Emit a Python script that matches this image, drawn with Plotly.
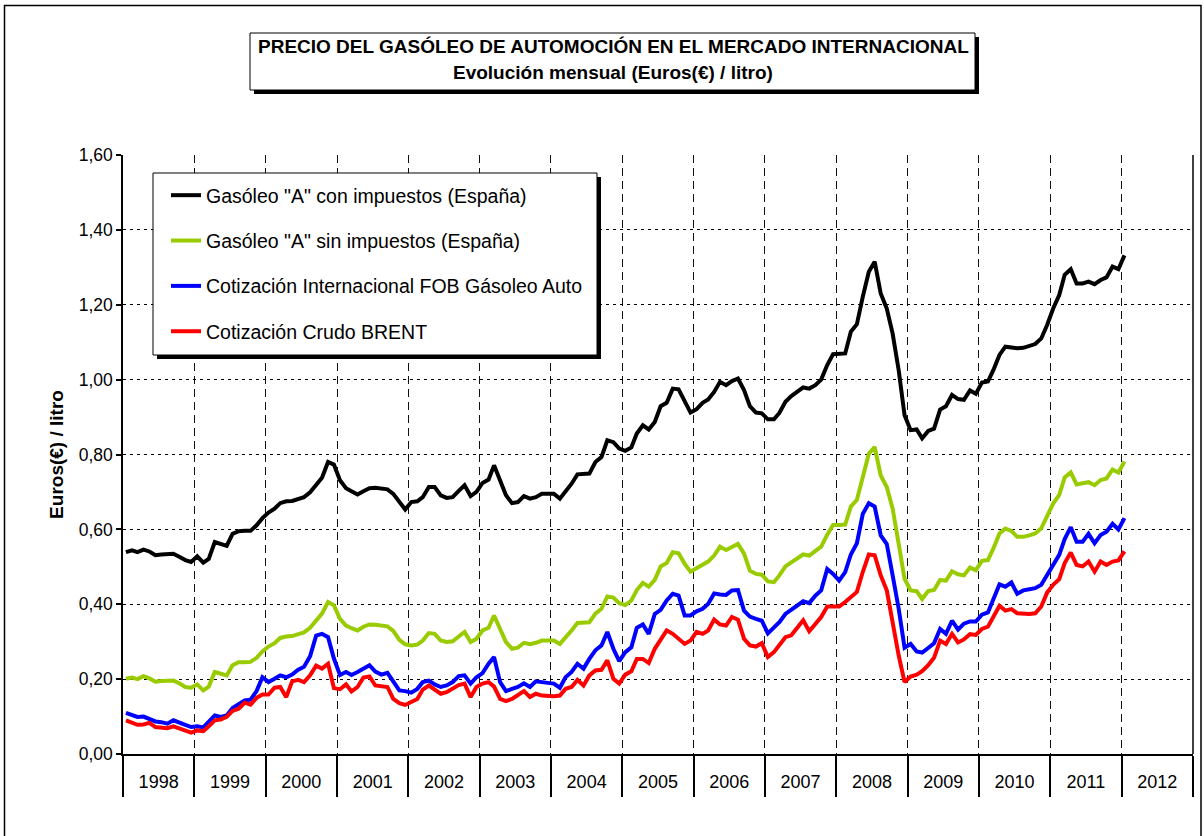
import plotly.graph_objects as go
import pandas as pd

# ---------------- data (monthly, Jan 1998 .. Jan 2012), Euros / litro ----------------
months = pd.date_range("1998-01-01", "2012-01-01", freq="MS")

con_impuestos = [
    0.539, 0.544, 0.539, 0.546, 0.541, 0.531, 0.533, 0.533, 0.535, 0.527, 0.518, 0.513,
    0.528, 0.511, 0.521, 0.566, 0.562, 0.556, 0.588, 0.595, 0.596, 0.596, 0.611, 0.630,
    0.645, 0.655, 0.670, 0.675, 0.676, 0.682, 0.686, 0.699, 0.718, 0.738, 0.780, 0.773,
    0.731, 0.710, 0.702, 0.693, 0.702, 0.710, 0.711, 0.708, 0.707, 0.695, 0.673, 0.653,
    0.673, 0.675, 0.686, 0.713, 0.713, 0.691, 0.684, 0.686, 0.703, 0.718, 0.689, 0.700,
    0.724, 0.733, 0.771, 0.731, 0.691, 0.670, 0.673, 0.689, 0.682, 0.686, 0.695, 0.695,
    0.695, 0.682, 0.700, 0.722, 0.747, 0.747, 0.749, 0.780, 0.793, 0.838, 0.833, 0.816,
    0.810, 0.819, 0.856, 0.878, 0.867, 0.887, 0.929, 0.938, 0.976, 0.974, 0.941, 0.912,
    0.921, 0.938, 0.947, 0.967, 0.994, 0.985, 0.996, 1.003, 0.972, 0.929, 0.912, 0.910,
    0.894, 0.894, 0.911, 0.941, 0.956, 0.967, 0.979, 0.976, 0.985, 1.000, 1.039, 1.068,
    1.070, 1.070, 1.128, 1.148, 1.221, 1.288, 1.315, 1.230, 1.190, 1.123, 1.025, 0.905,
    0.865, 0.867, 0.843, 0.863, 0.869, 0.920, 0.929, 0.959, 0.948, 0.946, 0.971, 0.962,
    0.992, 0.995, 1.026, 1.066, 1.088, 1.085, 1.084, 1.085, 1.090, 1.095, 1.110, 1.146,
    1.190, 1.226, 1.280, 1.295, 1.257, 1.257, 1.262, 1.255, 1.266, 1.273, 1.302, 1.295,
    1.332,
]

sin_impuestos = [
    0.201, 0.204, 0.200, 0.208, 0.202, 0.193, 0.195, 0.195, 0.196, 0.189, 0.179, 0.177,
    0.186, 0.170, 0.180, 0.219, 0.214, 0.210, 0.237, 0.245, 0.245, 0.246, 0.257, 0.274,
    0.287, 0.296, 0.310, 0.314, 0.315, 0.320, 0.325, 0.337, 0.357, 0.375, 0.406, 0.397,
    0.361, 0.343, 0.336, 0.330, 0.340, 0.346, 0.345, 0.342, 0.341, 0.329, 0.305, 0.293,
    0.290, 0.292, 0.303, 0.323, 0.321, 0.303, 0.299, 0.301, 0.314, 0.326, 0.299, 0.308,
    0.330, 0.337, 0.370, 0.332, 0.299, 0.281, 0.284, 0.297, 0.293, 0.297, 0.303, 0.303,
    0.303, 0.294, 0.310, 0.330, 0.350, 0.351, 0.352, 0.375, 0.388, 0.421, 0.418, 0.403,
    0.398, 0.410, 0.438, 0.457, 0.447, 0.465, 0.501, 0.510, 0.539, 0.536, 0.508, 0.487,
    0.496, 0.508, 0.514, 0.530, 0.554, 0.545, 0.554, 0.561, 0.535, 0.490, 0.481, 0.479,
    0.461, 0.459, 0.477, 0.501, 0.512, 0.524, 0.533, 0.530, 0.541, 0.554, 0.586, 0.612,
    0.612, 0.613, 0.661, 0.679, 0.739, 0.802, 0.820, 0.744, 0.713, 0.655, 0.561, 0.468,
    0.437, 0.435, 0.414, 0.435, 0.438, 0.465, 0.463, 0.488, 0.480, 0.477, 0.498, 0.491,
    0.516, 0.518, 0.549, 0.589, 0.602, 0.596, 0.580, 0.580, 0.584, 0.589, 0.603, 0.638,
    0.669, 0.692, 0.739, 0.752, 0.720, 0.723, 0.726, 0.718, 0.732, 0.736, 0.760, 0.752,
    0.781,
]

fob_gasoleo = [
    0.110, 0.105, 0.099, 0.100, 0.094, 0.087, 0.085, 0.081, 0.090, 0.083, 0.078, 0.072,
    0.074, 0.071, 0.085, 0.103, 0.099, 0.103, 0.123, 0.132, 0.143, 0.145, 0.168, 0.205,
    0.192, 0.201, 0.210, 0.205, 0.212, 0.225, 0.233, 0.261, 0.316, 0.321, 0.312, 0.255,
    0.211, 0.219, 0.211, 0.219, 0.228, 0.237, 0.220, 0.212, 0.217, 0.196, 0.170, 0.168,
    0.164, 0.174, 0.192, 0.196, 0.186, 0.179, 0.183, 0.192, 0.208, 0.210, 0.188, 0.205,
    0.216, 0.241, 0.259, 0.192, 0.168, 0.174, 0.179, 0.189, 0.179, 0.194, 0.193, 0.190,
    0.188, 0.177, 0.205, 0.219, 0.241, 0.228, 0.254, 0.277, 0.290, 0.326, 0.281, 0.248,
    0.272, 0.285, 0.337, 0.346, 0.321, 0.374, 0.385, 0.410, 0.428, 0.423, 0.370, 0.370,
    0.381, 0.388, 0.401, 0.429, 0.426, 0.425, 0.437, 0.438, 0.383, 0.367, 0.361, 0.356,
    0.322, 0.339, 0.352, 0.374, 0.386, 0.396, 0.408, 0.403, 0.423, 0.437, 0.494, 0.481,
    0.463, 0.486, 0.533, 0.563, 0.641, 0.670, 0.661, 0.584, 0.561, 0.477, 0.388, 0.284,
    0.294, 0.274, 0.271, 0.283, 0.296, 0.334, 0.321, 0.356, 0.332, 0.348, 0.354, 0.354,
    0.372, 0.378, 0.412, 0.453, 0.447, 0.458, 0.428, 0.437, 0.440, 0.443, 0.452, 0.478,
    0.505, 0.532, 0.574, 0.606, 0.567, 0.567, 0.588, 0.563, 0.585, 0.594, 0.615, 0.600,
    0.630,
]

brent = [
    0.090, 0.083, 0.078, 0.079, 0.083, 0.072, 0.070, 0.069, 0.074, 0.068, 0.063, 0.057,
    0.063, 0.061, 0.074, 0.090, 0.092, 0.099, 0.115, 0.121, 0.137, 0.132, 0.150, 0.159,
    0.159, 0.177, 0.179, 0.152, 0.194, 0.198, 0.192, 0.210, 0.236, 0.228, 0.241, 0.176,
    0.173, 0.186, 0.167, 0.179, 0.204, 0.207, 0.183, 0.181, 0.179, 0.147, 0.136, 0.131,
    0.139, 0.147, 0.172, 0.183, 0.172, 0.161, 0.165, 0.174, 0.184, 0.188, 0.152, 0.179,
    0.188, 0.192, 0.180, 0.147, 0.141, 0.147, 0.156, 0.168, 0.152, 0.161, 0.156, 0.154,
    0.154, 0.156, 0.174, 0.179, 0.198, 0.183, 0.210, 0.223, 0.225, 0.250, 0.201, 0.188,
    0.212, 0.221, 0.254, 0.254, 0.243, 0.281, 0.305, 0.330, 0.321, 0.308, 0.294, 0.303,
    0.326, 0.321, 0.330, 0.359, 0.346, 0.343, 0.366, 0.359, 0.308, 0.290, 0.287, 0.296,
    0.259, 0.272, 0.290, 0.312, 0.317, 0.339, 0.357, 0.328, 0.346, 0.366, 0.394, 0.394,
    0.394, 0.406, 0.419, 0.433, 0.486, 0.533, 0.531, 0.477, 0.437, 0.348, 0.263, 0.192,
    0.207, 0.212, 0.221, 0.237, 0.257, 0.303, 0.294, 0.321, 0.298, 0.306, 0.320, 0.318,
    0.334, 0.340, 0.367, 0.396, 0.383, 0.387, 0.376, 0.375, 0.374, 0.376, 0.394, 0.431,
    0.452, 0.467, 0.510, 0.538, 0.505, 0.501, 0.514, 0.487, 0.514, 0.505, 0.514, 0.517,
    0.541,
]

series_names = [
    'Gasóleo "A" con impuestos (España)',
    'Gasóleo "A" sin impuestos (España)',
    'Cotización Internacional FOB Gásoleo Auto',
    'Cotización Crudo BRENT',
]
series_values = [con_impuestos, sin_impuestos, fob_gasoleo, brent]
series_colors = ["#000000", "#99CC00", "#0000FF", "#FF0000"]

title_line1 = "PRECIO DEL GASÓLEO DE AUTOMOCIÓN EN EL MERCADO INTERNACIONAL"
title_line2 = "Evolución mensual (Euros(€) / litro)"
y_title = "Euros(€) / litro"
y_ticks = [0.0, 0.2, 0.4, 0.6, 0.8, 1.0, 1.2, 1.4, 1.6]

for s in series_values:
    assert len(s) == len(months), len(s)

# ---------------- layout geometry (page pixels; page margin removed) ----------------
W, H = 1204, 836
L, R, T, B = 123, 1193, 155, 754          # plot area
FONT = "Liberation Sans, Arial, Helvetica, sans-serif"


def px(x):
    return (x - L) / (R - L)


def py(y):
    return (B - y) / (B - T)


x_mid = months + pd.Timedelta(days=15)

fig = go.Figure()
for name, vals, col in zip(series_names, series_values, series_colors):
    fig.add_trace(go.Scatter(
        x=x_mid, y=vals, mode="lines", name=name, legendgroup=name,
        line=dict(color=col, width=4),
    ))

shapes = [
    # outer chart border
    dict(type="rect", xref="paper", yref="paper", x0=px(4.5), x1=px(1201), y0=py(845), y1=py(5.5),
         line=dict(color="black", width=1.5), fillcolor="rgba(0,0,0,0)", layer="below"),
    # title box shadow + box
    dict(type="rect", xref="paper", yref="paper", x0=px(254), x1=px(979), y0=py(94), y1=py(37),
         line=dict(width=0), fillcolor="black", layer="above"),
    dict(type="rect", xref="paper", yref="paper", x0=px(250), x1=px(975), y0=py(90), y1=py(33),
         line=dict(color="black", width=1), fillcolor="white", layer="above"),
    # legend box shadow + box
    dict(type="rect", xref="paper", yref="paper", x0=px(157), x1=px(601), y0=py(359), y1=py(177),
         line=dict(width=0), fillcolor="black", layer="above"),
    dict(type="rect", xref="paper", yref="paper", x0=px(153), x1=px(597), y0=py(355), y1=py(173),
         line=dict(color="black", width=1), fillcolor="white", layer="above"),
    # right border of plot area
    dict(type="line", xref="paper", yref="paper", x0=1, x1=1, y0=0, y1=1,
         line=dict(color="black", width=1.5), layer="above"),
]

annotations = [
    dict(text="<b>" + title_line1 + "</b>", xref="paper", yref="paper", x=px(613), y=py(46),
         xanchor="center", yanchor="middle", showarrow=False, font=dict(size=19, color="black", family=FONT)),
    dict(text="<b>" + title_line2 + "</b>", xref="paper", yref="paper", x=px(613), y=py(72),
         xanchor="center", yanchor="middle", showarrow=False, font=dict(size=19, color="black", family=FONT)),
]

fig.update_layout(
    width=W, height=H,
    margin=dict(l=L, r=W - R, t=T, b=H - B, autoexpand=False),
    paper_bgcolor="white", plot_bgcolor="white",
    separators=",.",
    font=dict(family=FONT, color="black", size=17),
    showlegend=True,
    legend=dict(
        x=px(166), y=py(176), xanchor="left", yanchor="top",
        bgcolor="rgba(0,0,0,0)", borderwidth=0,
        font=dict(size=19.5, family=FONT, color="black"),
        traceorder="grouped", tracegroupgap=17, itemwidth=30,
    ),
    shapes=shapes,
    annotations=annotations,
)

fig.update_xaxes(
    type="date", range=["1998-01-01", "2013-01-01"],
    tick0="1998-01-01", dtick="M12", tickformat="%Y", ticklabelmode="period",
    ticks="outside", ticklen=41, tickwidth=1.5, tickcolor="black",
    ticklabelstandoff=-30,
    tickfont=dict(size=18, family=FONT, color="black"),
    showline=True, linecolor="black", linewidth=1.5,
    showgrid=True, gridcolor="#111111", gridwidth=1, griddash="8px,5px",
    zeroline=False, fixedrange=True,
)

fig.update_yaxes(
    range=[0, 1.6], tickvals=y_ticks, tickformat=".2f",
    ticks="outside", ticklen=5, tickwidth=1.5, tickcolor="black",
    tickfont=dict(size=17.5, family=FONT, color="black"),
    showline=True, linecolor="black", linewidth=1.5,
    showgrid=True, gridcolor="black", gridwidth=1, griddash="3px,4px",
    zeroline=False,
    title=dict(text="<b>" + y_title + "</b>", font=dict(size=19, family=FONT, color="black"), standoff=10),
)

fig.write_html(
    "out.html",
    config={"displayModeBar": False},
    post_script="document.body.style.margin='0';document.body.style.overflow='hidden';",
)
